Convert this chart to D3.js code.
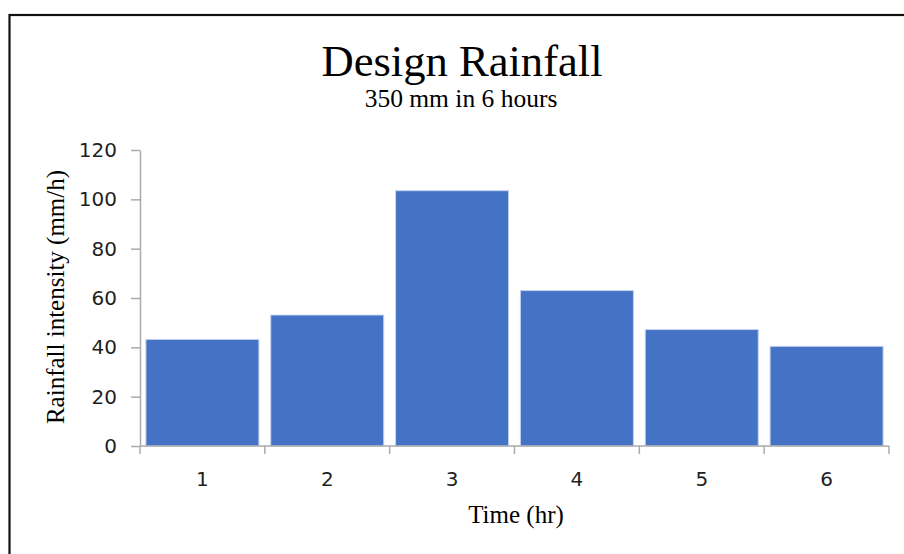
<!DOCTYPE html>
<html>
<head>
<meta charset="utf-8">
<script src="https://cdn.jsdelivr.net/npm/d3@7/dist/d3.min.js"></script>
<style>
  html, body { margin: 0; padding: 0; background: #fff; }
  svg { display: block; }
</style>
</head>
<body>
<svg id="chart" width="904" height="554"></svg>
<script>
// Hourly design rainfall intensities (mm/h) for a 6-hour storm
const hours = ["1", "2", "3", "4", "5", "6"];
const intensity = [43.2, 53.1, 103.5, 63.0, 47.2, 40.4];
const yTicks = [0, 20, 40, 60, 80, 100, 120];

const titleText = "Design Rainfall";
const subtitleText = "350 mm in 6 hours";
const xTitle = "Time (hr)";
const yTitle = "Rainfall intensity (mm/h)";

const svg = d3.select("#chart");
const W = 904, H = 554;
const plot = { left: 140, right: 889, top: 150, bottom: 446 };

// Outer frame (runs past the right and bottom edges of the view)
svg.append("rect")
  .attr("x", 9.5).attr("y", 15)
  .attr("width", W + 20).attr("height", H + 20)
  .attr("fill", "#fff")
  .attr("stroke", "#111").attr("stroke-width", 2.2);

const x = d3.scaleBand().domain(hours).range([plot.left, plot.right])
  .paddingInner(0.095).paddingOuter(0.0475);
const xEdges = d3.scaleLinear().domain([0, hours.length]).range([plot.left, plot.right]);
const y = d3.scaleLinear().domain([0, 120]).range([plot.bottom, plot.top]);

// Titles
svg.append("text")
  .attr("x", 462).attr("y", 76)
  .attr("text-anchor", "middle")
  .attr("font-family", "'Liberation Serif', 'Times New Roman', serif")
  .attr("font-size", 44.6).attr("fill", "#000")
  .text(titleText);

svg.append("text")
  .attr("x", 461).attr("y", 107)
  .attr("text-anchor", "middle")
  .attr("font-family", "'Liberation Serif', 'Times New Roman', serif")
  .attr("font-size", 25.5).attr("fill", "#000")
  .text(subtitleText);

// Bars
svg.append("g").selectAll("rect")
  .data(intensity)
  .join("rect")
  .attr("x", (d, i) => x(hours[i]))
  .attr("y", d => y(d))
  .attr("width", x.bandwidth())
  .attr("height", d => y(0) - y(d))
  .attr("fill", "#4472C4")
  .attr("stroke", "#c3d1ee")
  .attr("stroke-width", 1);

// Y axis
const yAxis = svg.append("g")
  .attr("transform", `translate(${plot.left},0)`)
  .call(d3.axisLeft(y).tickValues(yTicks).tickSize(9).tickPadding(14).tickSizeOuter(0));
yAxis.select(".domain").attr("stroke", "#ababab").attr("stroke-width", 1.5);
yAxis.selectAll(".tick line").attr("stroke", "#ababab").attr("stroke-width", 1.5);
yAxis.selectAll(".tick text")
  .attr("font-family", "'DejaVu Sans', sans-serif")
  .attr("font-size", 20).attr("fill", "#1f1f1f");

// X axis: ticks sit on the boundaries between hours, labels at the centres
const xAxisG = svg.append("g").attr("transform", `translate(0,${plot.bottom})`);
xAxisG.append("line")
  .attr("x1", plot.left).attr("x2", plot.right)
  .attr("stroke", "#ababab").attr("stroke-width", 1.5);
xAxisG.selectAll("line.edge")
  .data(d3.range(hours.length + 1))
  .join("line")
  .attr("class", "edge")
  .attr("x1", d => xEdges(d)).attr("x2", d => xEdges(d))
  .attr("y1", 0).attr("y2", 8)
  .attr("stroke", "#ababab").attr("stroke-width", 1.5);
xAxisG.selectAll("text")
  .data(hours)
  .join("text")
  .attr("x", d => x(d) + x.bandwidth() / 2)
  .attr("y", 39.5)
  .attr("text-anchor", "middle")
  .attr("font-family", "'DejaVu Sans', sans-serif")
  .attr("font-size", 20).attr("fill", "#1f1f1f")
  .text(d => d);

// Axis titles
svg.append("text")
  .attr("x", 516).attr("y", 523)
  .attr("text-anchor", "middle")
  .attr("font-family", "'Liberation Serif', 'Times New Roman', serif")
  .attr("font-size", 25).attr("fill", "#000")
  .text(xTitle);

svg.append("text")
  .attr("transform", "translate(64,297) rotate(-90)")
  .attr("text-anchor", "middle")
  .attr("font-family", "'Liberation Serif', 'Times New Roman', serif")
  .attr("font-size", 25).attr("fill", "#000")
  .text(yTitle);
</script>
</body>
</html>
